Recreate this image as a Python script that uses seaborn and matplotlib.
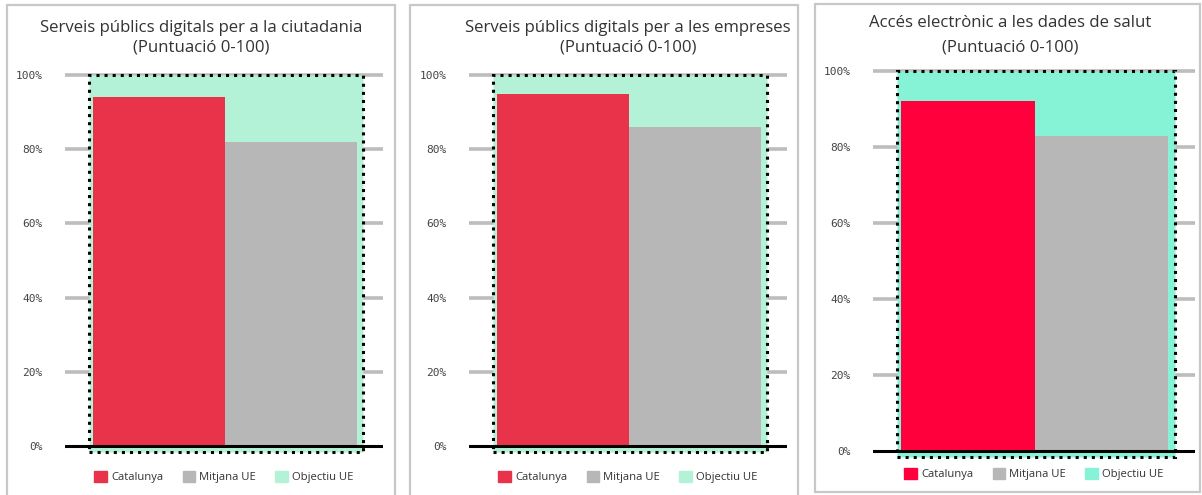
import matplotlib
matplotlib.use('Agg')
import matplotlib.pyplot as plt
import matplotlib.patches as mpatches
import matplotlib.ticker as mticker
import seaborn as sns

# ── Data ──────────────────────────────────────────────────────────────────────
titles = [
    'Serveis públics digitals per a la ciutadania\n(Puntuació 0-100)',
    'Serveis públics digitals per a les empreses\n(Puntuació 0-100)',
    'Accés electrònic a les dades de salut\n(Puntuació 0-100)',
]
categories = ['Catalunya', 'Mitjana UE']
catalunya = [94, 95, 92]
mitjana_ue = [82, 86, 83]
objectiu_ue = [100, 100, 100]
legend_labels = ['Catalunya', 'Mitjana UE', 'Objectiu UE']
y_ticks = [0, 20, 40, 60, 80, 100]

# ── Styles per panel ──────────────────────────────────────────────────────────
RED = ['#E8334A', '#E8334A', '#FF003C']
GREEN = ['#B3F2D7', '#B3F2D7', '#86F3D6']
GRAY = '#B7B7B7'
GRID = '#BDBDBD'
BORDER = '#C8C8C8'

W, H = 1202, 495
# axes boxes in pixels: left, right, y of 0%, y of 100%
AX_PX = [(65, 383, 446, 75), (469, 787, 446, 75), (873, 1195, 451, 71)]
PANEL_PX = [(7, 395, 5, 497), (410, 798, 5, 497), (815, 1200, 4, 492)]
TITLE_PX = [(201, 38), (628, 38), (1010, 35)]
TITLE_LS = [1.3, 1.3, 1.7]
LEGEND_Y = [477, 477, 474]
YMIN, YMAX = -3, 101

sns.set_theme(style='white')
plt.rcParams['font.family'] = ['Open Sans', 'DejaVu Sans']

fig = plt.figure(figsize=(W / 100, H / 100), dpi=100)
fig.patch.set_facecolor('white')

for i in range(3):
    # panel frame
    px0, px1, py0, py1 = PANEL_PX[i]
    fig.patches.append(mpatches.Rectangle(
        (px0 / W, 1 - py1 / H), (px1 - px0) / W, (py1 - py0) / H,
        transform=fig.transFigure, fill=False, edgecolor=BORDER, linewidth=1.6))

    l, r, y0, y100 = AX_PX[i]
    unit = (y0 - y100) / 100
    bottom_px = y0 - YMIN * unit
    top_px = y100 - (YMAX - 100) * unit
    ax = fig.add_axes([l / W, 1 - bottom_px / H, (r - l) / W, (bottom_px - top_px) / H])
    ax.set_facecolor('none')

    # target box (behind)
    ax.bar(0.51, objectiu_ue[i] + 1.6, bottom=-1.6, width=2.08, color=GREEN[i],
           edgecolor='black', linestyle=':', linewidth=2.2, zorder=1)

    sns.barplot(x=categories, y=[catalunya[i], mitjana_ue[i]], hue=categories,
                palette=[RED[i], GRAY], width=1, saturation=1, legend=False,
                linewidth=0, ax=ax, zorder=2)

    for t in y_ticks[1:]:
        ax.axhline(t, color=GRID, linewidth=2.6, zorder=0)
    ax.axhline(0, color='black', linewidth=2.2, zorder=3)

    ax.set_xlim(-0.71, 1.70)
    ax.set_ylim(YMIN, YMAX)
    ax.set_xticks([])
    ax.set_xlabel('')
    ax.set_ylabel('')
    ax.set_yticks(y_ticks)
    ax.yaxis.set_major_formatter(mticker.FuncFormatter(lambda v, _: f'{v:.0f}%'))
    ax.tick_params(axis='y', length=0, pad=16, labelsize=8, labelcolor='#444444')
    for lab in ax.get_yticklabels():
        lab.set_family(['DejaVu Sans Mono'])
    for s in ax.spines.values():
        s.set_visible(False)

    tx, ty = TITLE_PX[i]
    fig.text(tx / W, 1 - ty / H, titles[i], ha='center', va='center',
             fontsize=12.1, color='#333333', linespacing=TITLE_LS[i])

    handles = [mpatches.Patch(color=c) for c in (RED[i], GRAY, GREEN[i])]
    ax.legend(handles, legend_labels, loc='center', ncol=3, frameon=False,
              bbox_to_anchor=(0.5, 1 - (LEGEND_Y[i] - top_px) / (bottom_px - top_px)),
              fontsize=8.1, handlelength=1.1, handleheight=1.1, handletextpad=0.4,
              columnspacing=1.7, labelcolor='#333333')

fig.savefig('out.png', dpi=100)
